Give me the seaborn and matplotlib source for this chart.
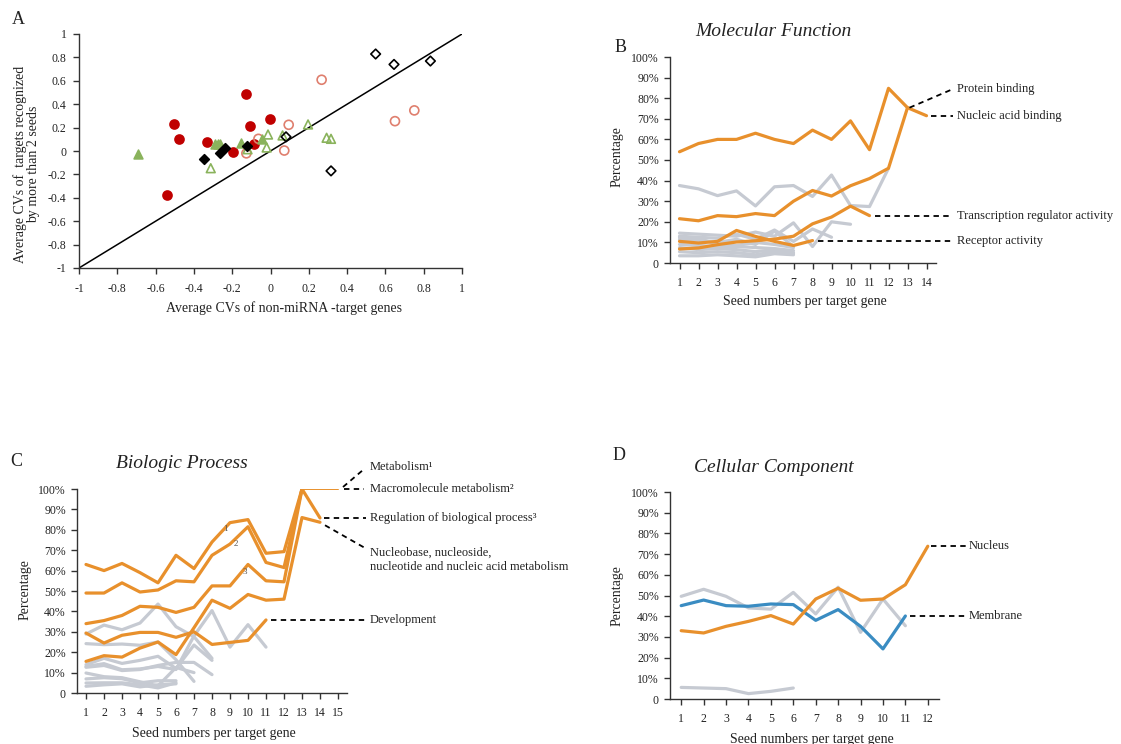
import matplotlib
matplotlib.use("Agg")
import matplotlib.pyplot as plt
from matplotlib.lines import Line2D
from matplotlib.ticker import FuncFormatter
import pandas as pd
import seaborn as sns

# ---------------- Panel A: average CVs (x: non-target genes, y: multi-seed targets)
red_filled_x = [-0.504, -0.476, -0.333, -0.130, -0.107, -0.004, -0.086, -0.198, -0.540]
red_filled_y = [0.230, 0.104, 0.073, 0.490, 0.213, 0.270, 0.058, -0.010, -0.380]
red_open_x = [0.267, 0.095, 0.072, -0.063, -0.126, 0.650, 0.751]
red_open_y = [0.609, 0.224, 0.004, 0.104, -0.020, 0.255, 0.347]
green_filled_x = [-0.690, -0.290, -0.275, -0.263, -0.155, -0.046]
green_filled_y = [-0.024, 0.060, 0.058, 0.064, 0.070, 0.104]
green_open_x = [-0.312, -0.020, -0.013, 0.063, 0.196, 0.293, 0.316, -0.120]
green_open_y = [-0.147, 0.030, 0.141, 0.133, 0.227, 0.113, 0.104, 0.015]
black_filled_x = [-0.347, -0.263, -0.236, -0.123]
black_filled_y = [-0.070, -0.016, 0.024, 0.044]
black_open_x = [0.549, 0.645, 0.835, 0.081, 0.316]
black_open_y = [0.829, 0.740, 0.769, 0.121, -0.170]

# ---------------- Panel B: Molecular Function (percentage by seed number)
mf_nucleic_acid_binding = [54, 58, 60, 60, 63, 60, 58, 64.5, 60, 69, 55, 84.8, 75.4, 71.5]
mf_protein_binding = [21.5, 20.5, 23, 22.5, 24, 23, 30, 35.2, 32.5, 37.5, 41, 46, 75.4]
mf_transcription_regulator = [6.8, 7.3, 8.9, 10.2, 10.8, 11.6, 13, 19, 22.3, 27.6, 23]
mf_receptor = [10.5, 9.7, 10.5, 15.8, 12.9, 10.5, 8.5, 10.9]
mf_other = [
    [37.6, 36, 32.7, 35, 27.7, 37, 37.6, 32.3, 42.7, 27.9, 27.4, 46],
    [14.5, 14, 13.5, 13, 15, 13, 19.5, 8, 20, 18.8],
    [13, 12.5, 12, 14, 11.5, 16, 10.5, 16.5, 12.5],
    [11.5, 11, 10, 11.5, 9, 15.5, 8],
    [12.5, 12, 9, 8.5, 10, 9, 7.5],
    [9, 8.5, 8, 8, 7.5, 7, 6],
    [7.5, 6.5, 7, 6.5, 5.5, 6.5, 5],
    [5.5, 5, 5.5, 5, 4, 5.5, 4.5],
    [3.5, 3.5, 4, 3.5, 3, 4.5, 4],
]

# ---------------- Panel C: Biologic Process
bp_metabolism = [63, 60, 63.5, 59, 54, 67.5, 61, 74, 83.5, 85, 68.5, 69.3, 100, 100, 100]
bp_macromolecule = [49, 49, 54, 49.5, 50.5, 55, 54.5, 67.5, 73, 81.5, 64, 61.5, 100, 100, 100]
bp_regulation = [34, 35.5, 38, 42.5, 42, 39.5, 42, 52.5, 52.5, 63, 55, 54.5, 100, 85.8]
bp_nucleobase = [15.5, 18.3, 17.6, 22, 25, 18.8, 32, 45.5, 41.5, 48.3, 45.5, 46, 86, 83.7]
bp_development = [29.4, 24.5, 28.3, 29.7, 29.7, 27.3, 30, 23.8, 24.8, 25.8, 35.8]
bp_other = [
    [28.9, 33.3, 31, 34.3, 43.6, 32.5, 27.6, 17],
    [13, 14.4, 11.4, 11.8, 13, 11.5, 28, 40.4, 22.5, 33.5, 22.5],
    [24.2, 23.7, 24, 23.4, 25, 16.3, 5.7],
    [13.9, 17, 14.5, 16, 18, 12, 23.5, 16],
    [12.6, 13.5, 11, 11.5, 13.5, 15, 15, 9],
    [9.8, 8, 7.5, 5.5, 3.5, 12.5, 10],
    [6.9, 7.5, 7, 5, 6, 6],
    [4.9, 5, 5, 4, 2.5, 5],
    [3.3, 4, 4.5, 3, 4, 4.5],
]

# ---------------- Panel D: Cellular Component
cc_nucleus = [33, 31.9, 35.1, 37.5, 40.3, 36.2, 48.3, 53.5, 47.7, 48.3, 55.2, 73.8]
cc_membrane = [45.1, 47.8, 45.1, 44.8, 45.9, 45.6, 38, 43.2, 35.1, 24.2, 40.1]
cc_other = [
    [49.6, 53, 49.6, 44, 43.4, 51.5, 41.1, 54, 32.2, 48.3, 35.4],
    [5.6, 5.3, 5, 2.6, 3.7, 5.3],
]

ORANGE = "#e8902c"
GRAY = "#c6cad2"
BLUE = "#3a8cc2"
RED = "#c00000"
SALMON = "#df7f6e"
GREEN = "#8ab35c"

sns.set_style("white")
plt.rcParams["font.family"] = ["Liberation Serif", "DejaVu Serif"]
plt.rcParams["axes.edgecolor"] = "#333333"
plt.rcParams["axes.linewidth"] = 1.0
plt.rcParams["text.color"] = "#222222"

W, H = 1121, 744
fig = plt.figure(figsize=(W / 100, H / 100), dpi=100)
fig.patch.set_facecolor("white")


def rect(left, top, right, bottom):
    return [left / W, 1 - bottom / H, (right - left) / W, (bottom - top) / H]


def put(x, y, s, **kw):
    kw.setdefault("va", "center")
    fig.text(x / W, 1 - y / H, s, **kw)


def leader(ax, xd, yd, x1, y1=None, dx=0, dy=0):
    """Dashed connector from a data point to a label position (figure pixels).
    With y1=None the connector stays level with the data point."""
    px, py = ax.transData.transform((xd, yd))
    x0, y0 = (px + dx) / W, (py + dy) / H
    ye = y0 if y1 is None else 1 - y1 / H
    fig.add_artist(Line2D([x0, x1 / W], [y0, ye], transform=fig.transFigure,
                          color="black", lw=1.3, ls=(0, (3.0, 2.4))))
    return (1 - ye) * H


def style(ax):
    sns.despine(ax=ax)
    ax.tick_params(axis="both", direction="out", length=4, width=1, color="#333333",
                   labelsize=8.5, bottom=True, left=True, labelcolor="#222222")
    ax.tick_params(axis="x", pad=6)
    ax.tick_params(axis="y", pad=4)
    ax.set_xlabel("")
    ax.set_ylabel("")


def long_table(series):
    rows = []
    for name, vals in series:
        for i, v in enumerate(vals):
            rows.append({"seed": i + 1, "pct": v, "series": name})
    return pd.DataFrame(rows)


def pct_axes(ax, n):
    ax.set_xlim(0.5, n + 0.5)
    ax.set_ylim(0, 100)
    ax.set_xticks(range(1, n + 1))
    ax.set_yticks(range(0, 101, 10))
    ax.yaxis.set_major_formatter(FuncFormatter(lambda v, p: "0" if v == 0 else f"{v:.0f}%"))


def draw_lines(ax, series, colors, lw=2.3):
    df = long_table(series)
    sns.lineplot(data=df, x="seed", y="pct", hue="series", units="series",
                 estimator=None, palette=colors, hue_order=[s for s, _ in series],
                 linewidth=lw, legend=False, ax=ax, sort=False)


# ================= Panel A
axA = fig.add_axes(rect(79, 34, 462, 268))
groups = [
    (red_filled_x, red_filled_y, "o", RED, RED, 42),
    (red_open_x, red_open_y, "o", "none", SALMON, 42),
    (green_filled_x, green_filled_y, "^", GREEN, GREEN, 40),
    (green_open_x, green_open_y, "^", "none", GREEN, 40),
    (black_filled_x, black_filled_y, "D", "black", "black", 24),
    (black_open_x, black_open_y, "D", "none", "black", 24),
]
axA.axline((0, 0), slope=1, color="black", lw=1.1, zorder=1)
for gx, gy, mk, fc, ec, sz in groups:
    sns.scatterplot(x=gx, y=gy, marker=mk, s=sz, facecolor=fc, edgecolor=ec,
                    linewidth=1.2, ax=axA, zorder=3)
axA.set_xlim(-1, 1)
axA.set_ylim(-1, 1)
ticks = [round(-1 + 0.2 * i, 1) for i in range(11)]
axA.set_xticks(ticks)
axA.set_yticks(ticks)
fmt = FuncFormatter(lambda v, p: "0" if abs(v) < 1e-9 else f"{v:g}")
axA.xaxis.set_major_formatter(fmt)
axA.yaxis.set_major_formatter(fmt)
style(axA)
axA.tick_params(axis="x", pad=7)
axA.tick_params(axis="y", pad=5)
put(284, 308, "Average CVs of non-miRNA -target genes", ha="center", fontsize=10)
put(20, 164, "Average CVs of  targets recognized", ha="center", rotation=90, fontsize=10)
put(34, 164, "by more than 2 seeds", ha="center", rotation=90, fontsize=10)
put(18, 20, "A", ha="center", fontsize=13)

# ================= Panel B
axB = fig.add_axes(rect(670, 57, 936, 263))
b_series = [(f"other{i}", v) for i, v in enumerate(mf_other)] + [
    ("Nucleic acid binding", mf_nucleic_acid_binding),
    ("Protein binding", mf_protein_binding),
    ("Transcription regulator activity", mf_transcription_regulator),
    ("Receptor activity", mf_receptor),
]
b_colors = {name: (GRAY if name.startswith("other") else ORANGE) for name, _ in b_series}
draw_lines(axB, b_series, b_colors)
pct_axes(axB, 14)
style(axB)
put(773, 32, "Molecular Function", ha="center", fontsize=14, style="italic")
put(621, 47, "B", ha="center", fontsize=13)
put(617, 157, "Percentage", ha="center", rotation=90, fontsize=10)
put(805, 302, "Seed numbers per target gene", ha="center", fontsize=10)
leader(axB, 13, mf_protein_binding[12], 953, 89, dx=2)
y_na = leader(axB, 14, mf_nucleic_acid_binding[13], 953, dx=4)
y_tr = leader(axB, 11, mf_transcription_regulator[10], 951, dx=5)
y_rc = leader(axB, 8, mf_receptor[7], 951, dx=5)
for y, s in [(89, "Protein binding"), (y_na, "Nucleic acid binding"),
             (y_tr, "Transcription regulator activity"), (y_rc, "Receptor activity")]:
    put(957, y, s, ha="left", fontsize=9)

# ================= Panel C
axC = fig.add_axes(rect(77, 489, 347, 693))
c_main = [
    ("Metabolism", bp_metabolism[:13]),
    ("Macromolecule metabolism", bp_macromolecule[:13]),
    ("Regulation of biological process", bp_regulation),
    ("Nucleobase metabolism", bp_nucleobase),
    ("Development", bp_development),
]
c_series = [(f"other{i}", v) for i, v in enumerate(bp_other)] + c_main
c_colors = {name: (GRAY if name.startswith("other") else ORANGE) for name, _ in c_series}
draw_lines(axC, c_series, c_colors)
# plateau after seed 13 drawn as a thin line
tail = long_table([("Metabolism", bp_metabolism), ("Macromolecule metabolism", bp_macromolecule)])
tail = tail[tail["seed"] >= 13]
sns.lineplot(data=tail, x="seed", y="pct", units="series", estimator=None,
             color=ORANGE, linewidth=1.2, ax=axC, legend=False)
pct_axes(axC, 15)
style(axC)
axC.text(8.75, 80.5, "1", fontsize=6.5, color="#555555", ha="center", va="center")
axC.text(9.3, 73.0, "2", fontsize=6.5, color="#555555", ha="center", va="center")
axC.text(9.8, 59.5, "3", fontsize=6.5, color="#555555", ha="center", va="center")
put(182, 464, "Biologic Process", ha="center", fontsize=14, style="italic")
put(16, 461, "C", ha="center", fontsize=13)
put(25, 590, "Percentage", ha="center", rotation=90, fontsize=10)
put(214, 733, "Seed numbers per target gene", ha="center", fontsize=10)
leader(axC, 15, bp_metabolism[14], 363, 470, dx=5, dy=2)
y_mm = leader(axC, 15, bp_macromolecule[14], 364, dx=6)
y_rg = leader(axC, 14, bp_regulation[13], 366, dx=4)
leader(axC, 14, bp_nucleobase[13], 365, 548, dx=5, dy=-3)
y_dv = leader(axC, 11, bp_development[10], 365, dx=5)
put(370, 467, "Metabolism\u00b9", ha="left", fontsize=9)
put(370, y_mm, "Macromolecule metabolism\u00b2", ha="left", fontsize=9)
put(370, y_rg, "Regulation of biological process\u00b3", ha="left", fontsize=9)
put(370, 553, "Nucleobase, nucleoside,", ha="left", fontsize=9)
put(370, 567, "nucleotide and nucleic acid metabolism", ha="left", fontsize=9)
put(370, y_dv, "Development", ha="left", fontsize=9)

# ================= Panel D
axD = fig.add_axes(rect(670, 492, 939, 699))
d_series = [("other0", cc_other[0]), ("Membrane", cc_membrane),
            ("Nucleus", cc_nucleus), ("other1", cc_other[1])]
d_colors = {"other0": GRAY, "other1": GRAY, "Membrane": BLUE, "Nucleus": ORANGE}
draw_lines(axD, d_series, d_colors)
pct_axes(axD, 12)
style(axD)
put(774, 467, "Cellular Component", ha="center", fontsize=14, style="italic")
put(619, 456, "D", ha="center", fontsize=13)
put(617, 596, "Percentage", ha="center", rotation=90, fontsize=10)
put(812, 739, "Seed numbers per target gene", ha="center", fontsize=10)
y_nu = leader(axD, 12, cc_nucleus[11], 967, dx=3)
y_mb = leader(axD, 11, cc_membrane[10], 966, dx=5)
put(969, y_nu, "Nucleus", ha="left", fontsize=9)
put(969, y_mb, "Membrane", ha="left", fontsize=9)

fig.savefig("out.png", dpi=100, facecolor="white")
